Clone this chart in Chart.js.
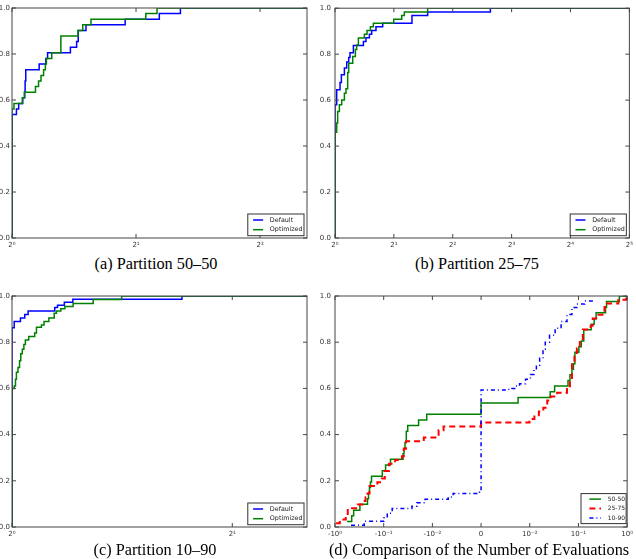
<!DOCTYPE html>
<html>
<head>
<meta charset="utf-8">
<script src="https://cdn.jsdelivr.net/npm/chart.js@4.4.1/dist/chart.umd.min.js"></script>
<style>
  html, body { margin: 0; padding: 0; background: #fff; }
  #page { position: relative; width: 636px; height: 559px; overflow: hidden; }
  canvas { position: absolute; }
  .caption { position: absolute; width: 320px; text-align: center; white-space: nowrap;
             font-family: "Liberation Serif", serif; font-size: 16.3px; line-height: 16px; color: #000; }
</style>
</head>
<body>
<div id="page">
  <canvas id="chart-a" width="318" height="254" style="left:0;top:0"></canvas>
  <canvas id="chart-b" width="318" height="254" style="left:318px;top:0"></canvas>
  <canvas id="chart-c" width="318" height="263" style="left:0;top:280px"></canvas>
  <canvas id="chart-d" width="318" height="263" style="left:318px;top:280px"></canvas>
  <div class="caption" style="left:-4px;top:256px">(a) Partition 50–50</div>
  <div class="caption" style="left:317px;top:256px">(b) Partition 25–75</div>
  <div class="caption" style="left:-5px;top:542px">(c) Partition 10–90</div>
  <div class="caption" style="left:319px;top:542px">(d) Comparison of the Number of Evaluations</div>
</div>
<script>
// shared y axis
const yTicks = [0, 0.2, 0.4, 0.6, 0.8, 1.0];

// (a) Partition 50-50
const aTicks = [1, 2, 4];
const aTickLabels = ['2⁰', '2¹', '2²'];
const aDefaultX = [1, 1, 1.025, 1.038, 1.062, 1.074, 1.076, 1.080, 1.164, 1.208, 1.220, 1.386, 1.435, 1.448, 1.512, 1.882, 2.278, 2.563, 5.2];
const aDefaultY = [0, 0.537, 0.561, 0.585, 0.610, 0.634, 0.683, 0.732, 0.756, 0.780, 0.805, 0.829, 0.854, 0.902, 0.927, 0.951, 0.976, 1.0, 1.0];
const aOptimizedX = [1, 1, 1.011, 1.059, 1.071, 1.140, 1.160, 1.176, 1.193, 1.205, 1.212, 1.249, 1.314, 1.446, 1.485, 1.555, 2.112, 2.249, 5.2];
const aOptimizedY = [0, 0.561, 0.585, 0.610, 0.634, 0.659, 0.683, 0.707, 0.732, 0.756, 0.780, 0.805, 0.878, 0.902, 0.927, 0.951, 0.976, 1.0, 1.0];

// (b) Partition 25-75
const bTicks = [1, 2, 4, 8, 16, 32];
const bTickLabels = ['2⁰', '2¹', '2²', '2³', '2⁴', '2⁵'];
const bDefaultX = [1, 1, 1.020, 1.061, 1.078, 1.117, 1.148, 1.175, 1.193, 1.242, 1.397, 1.440, 1.499, 1.540, 1.620, 1.753, 2.475, 2.977, 6.23, 32];
const bDefaultY = [0, 0.580, 0.645, 0.677, 0.710, 0.740, 0.766, 0.785, 0.806, 0.838, 0.855, 0.871, 0.887, 0.903, 0.919, 0.935, 0.968, 0.984, 1.0, 1.0];
const bOptimizedX = [1, 1, 1.020, 1.032, 1.053, 1.082, 1.117, 1.138, 1.161, 1.175, 1.232, 1.271, 1.291, 1.317, 1.413, 1.458, 1.517, 1.571, 1.996, 2.193, 2.262, 2.977, 32];
const bOptimizedY = [0, 0.460, 0.500, 0.550, 0.580, 0.600, 0.630, 0.650, 0.720, 0.760, 0.790, 0.820, 0.840, 0.870, 0.887, 0.903, 0.919, 0.935, 0.952, 0.968, 0.984, 1.0, 1.0];

// (c) Partition 10-90
const cTicks = [1, 2];
const cTickLabels = ['2⁰', '2¹'];
const cDefaultX = [1, 1, 1.007, 1.027, 1.041, 1.052, 1.144, 1.154, 1.179, 1.211, 1.707, 2.53];
const cDefaultY = [0, 0.863, 0.890, 0.905, 0.920, 0.935, 0.950, 0.960, 0.973, 0.986, 1.0, 1.0];
const cOptimizedX = [1, 1, 1.007, 1.011, 1.014, 1.019, 1.024, 1.028, 1.033, 1.038, 1.043, 1.054, 1.074, 1.080, 1.097, 1.106, 1.123, 1.142, 1.150, 1.166, 1.181, 1.212, 1.291, 1.412, 2.53];
const cOptimizedY = [0, 0.600, 0.610, 0.640, 0.670, 0.690, 0.720, 0.750, 0.770, 0.790, 0.810, 0.825, 0.840, 0.865, 0.875, 0.890, 0.905, 0.925, 0.935, 0.945, 0.955, 0.968, 0.985, 1.0, 1.0];

// (d) Comparison of the number of evaluations (symlog x)
const dTicks = [-1, -0.1, -0.01, 0, 0.01, 0.1, 1];
const dTickLabels = ['-10⁰', '-10⁻¹', '-10⁻²', '0', '10⁻²', '10⁻¹', '10⁰'];
const d5050X = [-0.5655, -0.454, -0.414, -0.308, -0.215, -0.205, -0.196, -0.187, -0.178, -0.1067, -0.0915, -0.0725, -0.040, -0.0382, -0.0365, -0.0343, -0.0321, -0.0192, -0.01305, 0,
                0.0076, 0.0263, 0.0324, 0.061, 0.0669, 0.0735, 0.0788, 0.0845, 0.1019, 0.1145, 0.1287, 0.1827, 0.210, 0.2307, 0.3597, 0.377, 0.692, 1];
const d5050Y = [0.024, 0.049, 0.073, 0.098, 0.122, 0.146, 0.171, 0.195, 0.220, 0.244, 0.268, 0.293, 0.317, 0.341, 0.366, 0.415, 0.439, 0.463, 0.488, 0.537,
                0.561, 0.585, 0.610, 0.634, 0.659, 0.683, 0.707, 0.756, 0.780, 0.805, 0.854, 0.878, 0.902, 0.927, 0.951, 0.976, 1.0, 1.0];
const d2575X = [-0.95, -0.796, -0.601, -0.547, -0.343, -0.272, -0.236, -0.215, -0.196, -0.1349, -0.1093, -0.095, -0.078, -0.0582, -0.042, -0.0387, -0.0348, -0.01502, -0.00872, -0.00771, 0,
                0.00994, 0.01245, 0.01537, 0.01897, 0.02286, 0.0269, 0.0365, 0.0582, 0.0669, 0.0735, 0.0826, 0.0928, 0.1067, 0.1227, 0.1784, 0.196, 0.2307, 0.343, 0.368, 0.660, 0.959];
const d2575Y = [0.016, 0.032, 0.048, 0.081, 0.097, 0.113, 0.129, 0.145, 0.177, 0.194, 0.210, 0.242, 0.274, 0.290, 0.306, 0.339, 0.371, 0.387, 0.419, 0.435, 0.452,
                0.468, 0.484, 0.500, 0.516, 0.548, 0.565, 0.581, 0.597, 0.645, 0.710, 0.742, 0.774, 0.806, 0.855, 0.871, 0.903, 0.919, 0.952, 0.968, 0.984, 1.0];
const d1090X = [-0.469, -0.251, -0.0986, -0.0845, -0.0669, -0.0263, -0.0208, -0.01413, -0.00675, -0.00574, -0.000345, 0,
                0.00568, 0.0069, 0.00791, 0.00913, 0.01033, 0.01217, 0.01368, 0.01596, 0.01871, 0.0208, 0.02547, 0.0332, 0.0440, 0.0582, 0.0735, 0.0928, 0.1349, 0.205];
const d1090Y = [0.008, 0.025, 0.040, 0.060, 0.080, 0.090, 0.105, 0.120, 0.130, 0.145, 0.150, 0.593,
                0.600, 0.610, 0.620, 0.640, 0.660, 0.680, 0.700, 0.730, 0.770, 0.800, 0.830, 0.860, 0.890, 0.920, 0.950, 0.965, 0.978, 0.986];

Chart.defaults.font.family = '"DejaVu Sans", sans-serif';
Chart.defaults.font.size = 7;
Chart.defaults.color = '#333';

// symmetric log scale, linear between -0.01 and 0.01
const LINTHRESH = 0.01;
function symT(v) {
  const a = Math.abs(v);
  if (a <= LINTHRESH) return v / LINTHRESH;
  return Math.sign(v) * (1 + Math.log10(a / LINTHRESH));
}
function symInv(t) {
  const a = Math.abs(t);
  if (a <= 1) return t * LINTHRESH;
  return Math.sign(t) * LINTHRESH * Math.pow(10, a - 1);
}
class SymlogScale extends Chart.Scale {
  determineDataLimits() {
    this.min = this.options.min;
    this.max = this.options.max;
  }
  buildTicks() { return []; }
  configure() {
    super.configure();
    this._t0 = symT(this.min);
    this._t1 = symT(this.max);
  }
  getPixelForValue(v) {
    return this.getPixelForDecimal((symT(v) - this._t0) / (this._t1 - this._t0));
  }
  getValueForPixel(p) {
    return symInv(this._t0 + this.getDecimalForPixel(p) * (this._t1 - this._t0));
  }
}
SymlogScale.id = 'symlog';
SymlogScale.defaults = {};
Chart.register(SymlogScale);

// matplotlib-like frame with inward ticks on all four sides
const framePlugin = {
  id: 'frame',
  afterDatasetsDraw(chart) {
    const { ctx, chartArea: a, scales } = chart;
    ctx.save();
    ctx.strokeStyle = '#444';
    ctx.lineWidth = 1;
    ctx.strokeRect(a.left, a.top, a.right - a.left, a.bottom - a.top);
    ctx.beginPath();
    scales.x.ticks.forEach((t, i) => {
      const px = scales.x.getPixelForTick(i);
      ctx.moveTo(px, a.bottom); ctx.lineTo(px, a.bottom - 4);
      ctx.moveTo(px, a.top); ctx.lineTo(px, a.top + 4);
    });
    scales.y.ticks.forEach((t, i) => {
      const py = scales.y.getPixelForTick(i);
      ctx.moveTo(a.left, py); ctx.lineTo(a.left + 4, py);
      ctx.moveTo(a.right, py); ctx.lineTo(a.right - 4, py);
    });
    ctx.stroke();
    ctx.restore();
  }
};

// legend box in the lower right corner of the plot area
const boxLegend = {
  id: 'boxLegend',
  afterDraw(chart, args, o) {
    const { ctx, chartArea: a } = chart;
    const sets = chart.data.datasets;
    ctx.save();
    ctx.font = o.fontSize + 'px "DejaVu Sans", sans-serif';
    const textW = Math.max(...sets.map(d => ctx.measureText(d.label).width));
    const w = o.padL + o.lineLen + o.gap + textW + o.padR;
    const h = o.padT * 2 + (sets.length - 1) * o.rowH;
    const x0 = a.right - o.right - w;
    const y0 = a.bottom - o.bottom - h;
    ctx.fillStyle = '#fff';
    ctx.fillRect(x0, y0, w, h);
    ctx.strokeStyle = '#333';
    ctx.lineWidth = 1;
    ctx.strokeRect(x0, y0, w, h);
    sets.forEach((d, i) => {
      const y = y0 + o.padT + i * o.rowH;
      ctx.strokeStyle = d.borderColor;
      ctx.lineWidth = d.borderWidth;
      ctx.setLineDash(d.borderDash || []);
      ctx.beginPath();
      ctx.moveTo(x0 + o.padL, y);
      ctx.lineTo(x0 + o.padL + o.lineLen, y);
      ctx.stroke();
      ctx.setLineDash([]);
      ctx.fillStyle = '#222';
      ctx.textBaseline = 'middle';
      ctx.fillText(d.label, x0 + o.padL + o.lineLen + o.gap, y);
    });
    ctx.restore();
  }
};

function series(label, xs, ys, color, order, extra) {
  return Object.assign({
    label: label,
    data: xs.map((x, i) => ({ x: x, y: ys[i] })),
    borderColor: color,
    borderWidth: 1.5,
    stepped: true,
    pointRadius: 0,
    fill: false,
    order: order
  }, extra || {});
}

function makeChart(id, datasets, xScale, box, legend) {
  return new Chart(document.getElementById(id), {
    type: 'line',
    data: { datasets: datasets },
    plugins: [framePlugin, boxLegend],
    options: {
      responsive: false,
      animation: false,
      events: [],
      layout: { padding: { top: box.top, right: box.right, left: 0, bottom: 0 } },
      plugins: {
        legend: { display: false },
        tooltip: { enabled: false },
        boxLegend: legend
      },
      scales: {
        x: Object.assign({
          afterFit: s => { s.height = 16; },
          grid: { display: false, drawTicks: false },
          border: { display: false }
        }, xScale),
        y: {
          min: 0,
          max: 1,
          afterFit: s => { s.width = box.yWidth; },
          afterBuildTicks: s => { s.ticks = yTicks.map(v => ({ value: v })); },
          grid: { display: false, drawTicks: false },
          border: { display: false },
          ticks: { padding: box.yPad, autoSkip: false, callback: v => v.toFixed(1) }
        }
      }
    }
  });
}

function log2Axis(max, ticks, labels) {
  return {
    type: 'logarithmic',
    min: 1,
    max: max,
    bounds: 'data',
    afterBuildTicks: s => { s.ticks = ticks.map(v => ({ value: v })); },
    ticks: { padding: 3, autoSkip: false, maxRotation: 0, callback: v => labels[ticks.indexOf(v)] }
  };
}

const pairLegend = { right: 3, bottom: 2.3, padL: 5.3, lineLen: 10, gap: 6.7, padR: 1.5, padT: 6, rowH: 9.7, fontSize: 6.4 };
const blue = '#0000ff';
const green = '#008000';
const red = '#ff0000';

makeChart('chart-a', [
  series('Default', aDefaultX, aDefaultY, blue, 1),
  series('Optimized', aOptimizedX, aOptimizedY, green, 0)
], log2Axis(5.2, aTicks, aTickLabels), { top: 8, right: 11, yWidth: 12, yPad: 2 }, pairLegend);

makeChart('chart-b', [
  series('Default', bDefaultX, bDefaultY, blue, 1),
  series('Optimized', bOptimizedX, bOptimizedY, green, 0)
], log2Axis(32, bTicks, bTickLabels), { top: 8, right: 6, yWidth: 17, yPad: 4 }, pairLegend);

makeChart('chart-c', [
  series('Default', cDefaultX, cDefaultY, blue, 1),
  series('Optimized', cOptimizedX, cOptimizedY, green, 0)
], log2Axis(2.53, cTicks, cTickLabels), { top: 16, right: 11, yWidth: 12, yPad: 2 }, pairLegend);

makeChart('chart-d', [
  series('50-50', d5050X, d5050Y, green, 2),
  series('25-75', d2575X, d2575Y, red, 1, { borderWidth: 2, borderDash: [6, 4] }),
  series('10-90', d1090X, d1090Y, blue, 0, { borderDash: [4, 3, 1, 3] })
], {
  type: 'symlog',
  min: -1,
  max: 1,
  afterBuildTicks: s => { s.ticks = dTicks.map(v => ({ value: v })); },
  ticks: { padding: 3, autoSkip: false, maxRotation: 0, callback: (v, i) => dTickLabels[i] }
}, { top: 16, right: 5, yWidth: 17, yPad: 4 },
{ right: 1, bottom: 3.4, padL: 8.4, lineLen: 11.6, gap: 6.7, padR: 1, padT: 5.5, rowH: 9.5, fontSize: 6 });
</script>
</body>
</html>
